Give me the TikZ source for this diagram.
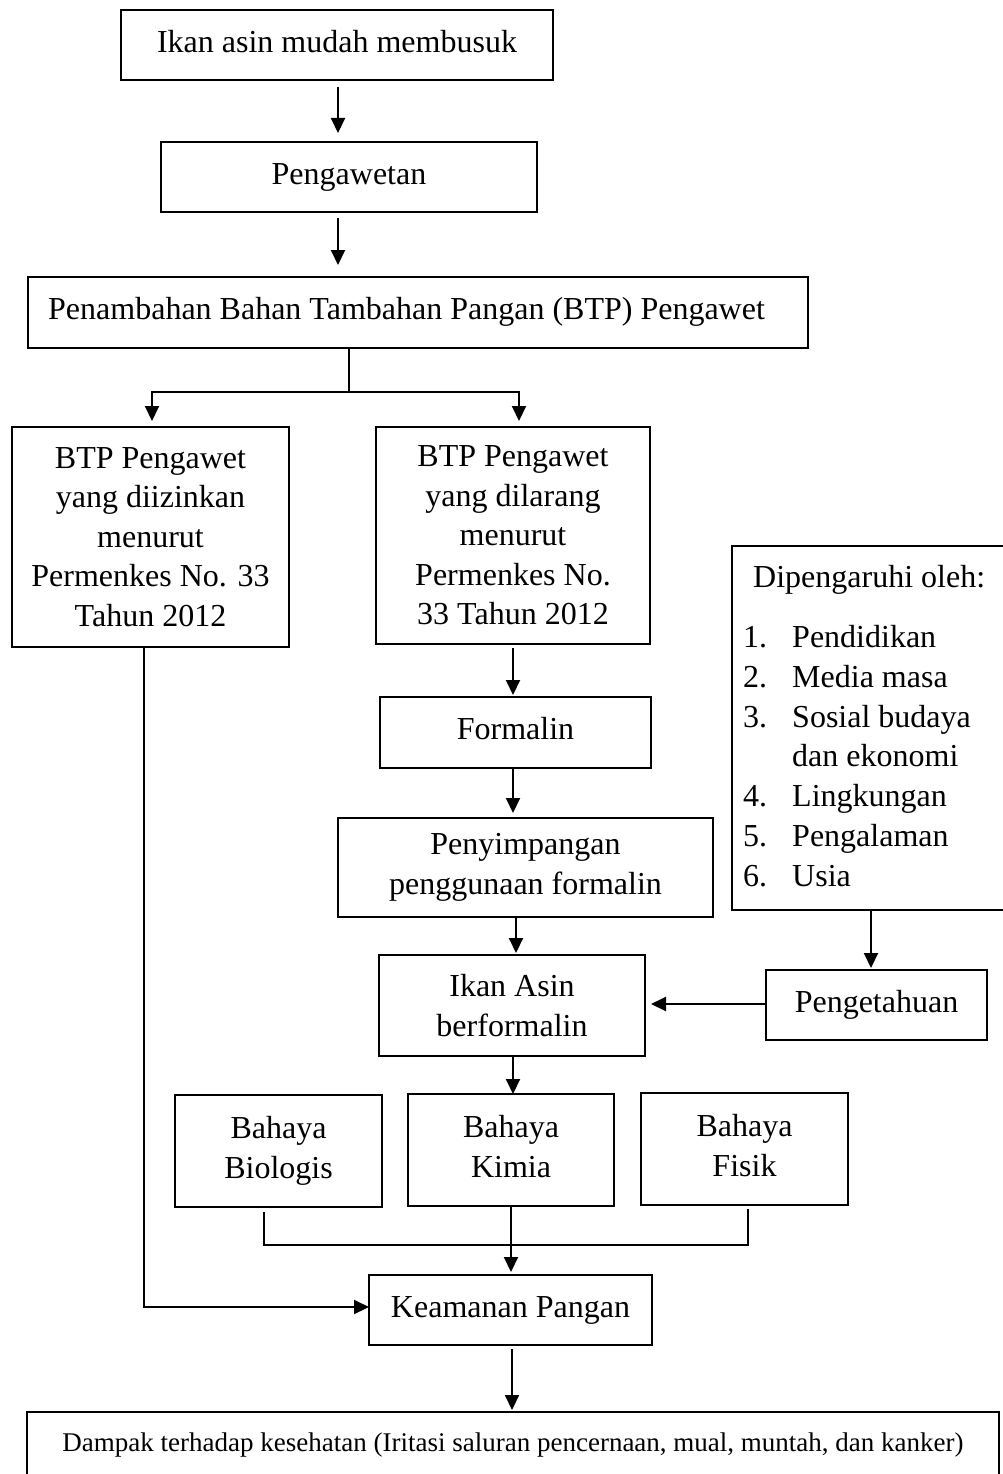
\documentclass[tikz,border=0pt]{standalone}
\usepackage{fontspec}
\setmainfont{Liberation Serif}
\usetikzlibrary{arrows.meta,calc}
\begin{document}
\begin{tikzpicture}[x=1pt,y=-1pt,
  box/.style={draw, line width=2pt, inner sep=0pt, outer sep=0pt, align=center, font=\fontsize{32}{39.5}\selectfont},
  oneline/.style={text height=22.4pt, text depth=8pt},
  arr/.style={line width=2pt, -{Triangle[length=15pt,width=14pt]}},
  ln/.style={line width=2pt},
  lst/.style={anchor=base west, inner sep=0pt, font=\fontsize{32}{39.5}\selectfont}]
\useasboundingbox (0,0) rectangle (1003,1474);
% boxes
\node[box, oneline, minimum width=432, minimum height=70] (b1) at (337,45) {Ikan asin mudah membusuk};
\node[box, oneline, minimum width=376, minimum height=70] (b2) at (349,177) {Pengawetan};
\node[box, minimum width=780, minimum height=71] (b3) at (418,312.5) {};
\node[anchor=west, inner sep=0pt, oneline, font=\fontsize{32}{39.5}\selectfont] (b3t) at ($(b3.west)+(20,0)$) {Penambahan Bahan Tambahan Pangan (BTP) Pengawet};
\node[box, minimum width=277, minimum height=220] (b4) at (150.5,537) {BTP Pengawet\\yang diizinkan\\menurut\\Permenkes No. 33\\Tahun 2012};
\node[box, minimum width=274, minimum height=217] (b5) at (513,535.5) {BTP Pengawet\\yang dilarang\\menurut\\Permenkes No.\\33 Tahun 2012};
\node[box, oneline, minimum width=271, minimum height=71] (b6) at (515.5,732.5) {Formalin};
\node[box, minimum width=375, minimum height=99] (b7) at (525.5,867.5) {Penyimpangan\\penggunaan formalin};
\node[box, minimum width=266, minimum height=101] (b8) at (512,1005.5) {Ikan Asin\\berformalin};
\node[box, minimum width=274, minimum height=364] (b9) at (869,728) {};
\node[box, oneline, minimum width=221, minimum height=70] (b10) at (876.5,1005) {Pengetahuan};
\node[box, minimum width=207, minimum height=112] (b11) at (278.5,1151) {Bahaya\\Biologis};
\node[box, minimum width=206, minimum height=112] (b12) at (511,1150) {Bahaya\\Kimia\vphantom{g}};
\node[box, minimum width=207, minimum height=112] (b13) at (744.5,1149) {Bahaya\\Fisik\vphantom{g}};
\node[box, oneline, minimum width=283, minimum height=70] (b14) at (510.5,1310) {Keamanan Pangan};
\node[box, minimum width=972, minimum height=66, font=\fontsize{27}{32}\selectfont, text height=19pt, text depth=7pt] (b15) at (513,1445) {Dampak terhadap kesehatan (Iritasi saluran pencernaan, mual, muntah, dan kanker)};
% list text inside b9
\node[lst] (h9) at (753,587) {Dipengaruhi oleh:};
\node[lst] (n1) at (743,647) {1.};
\node[lst] (t1) at (792,647) {Pendidikan};
\node[lst] (n2) at (743,687) {2.};
\node[lst] (t2) at (792,687) {Media masa};
\node[lst] (n3) at (743,727) {3.};
\node[lst] (t3) at (792,727) {Sosial budaya};
\node[lst] (t3b) at (792,766) {dan ekonomi};
\node[lst] (n4) at (743,806) {4.};
\node[lst] (t4) at (792,806) {Lingkungan};
\node[lst] (n5) at (743,846) {5.};
\node[lst] (t5) at (792,846) {Pengalaman};
\node[lst] (n6) at (743,886) {6.};
\node[lst] (t6) at (792,886) {Usia};
% connectors
\coordinate (fk) at (349,392);
\draw[arr] ($(b1.south)+(1,7)$) -- ($(b1.south|-b2.north)+(1,-9)$);
\draw[arr] ($(b2.south)+(-11,6)$) -- ($(b2.south|-b3.north)+(-11,-12)$);
\draw[ln] (b3.south -| fk) -- (fk);
\draw[arr] (fk) -| ($(b4.north)+(1.5,-6)$);
\draw[arr] (fk) -| ($(b5.north)+(6,-6)$);
\draw[arr] ($(b4.south)+(-6.5,0)$) |- ($(b14.west)+(0,-3)$);
\draw[arr] ($(b5.south)+(0,4)$) -- ($(b5.south|-b6.north)+(0,-2)$);
\draw[arr] ($(b6.south)+(-2.5,0)$) -- ($(b6.south|-b7.north)+(-2.5,-5)$);
\draw[arr] ($(b7.south)+(-9.5,0)$) -- ($(b7.south|-b8.north)+(-9.5,-2)$);
\draw[arr] ($(b9.south)+(2,0)$) -- ($(b9.south|-b10.north)+(2,-2)$);
\draw[arr] ($(b10.west)+(0,-1)$) -- ($(b10.west -| b8.east)+(6,-1)$);
\draw[arr] ($(b8.south)+(1,0)$) -- ($(b8.south|-b12.north)+(1,0)$);
\draw[ln] ($(b11.south)+(-14.5,5)$) -- ++(0,33) -- ($(b13.south)+(3.5,40)$) -- ($(b13.south)+(3.5,4)$);
\draw[arr] (b12.south) -- ($(b12.south|-b14.north)+(0,-3)$);
\draw[arr] ($(b14.south)+(1.5,4)$) -- ($(b14.south|-b15.north)+(1.5,-2)$);
\end{tikzpicture}
\end{document}
